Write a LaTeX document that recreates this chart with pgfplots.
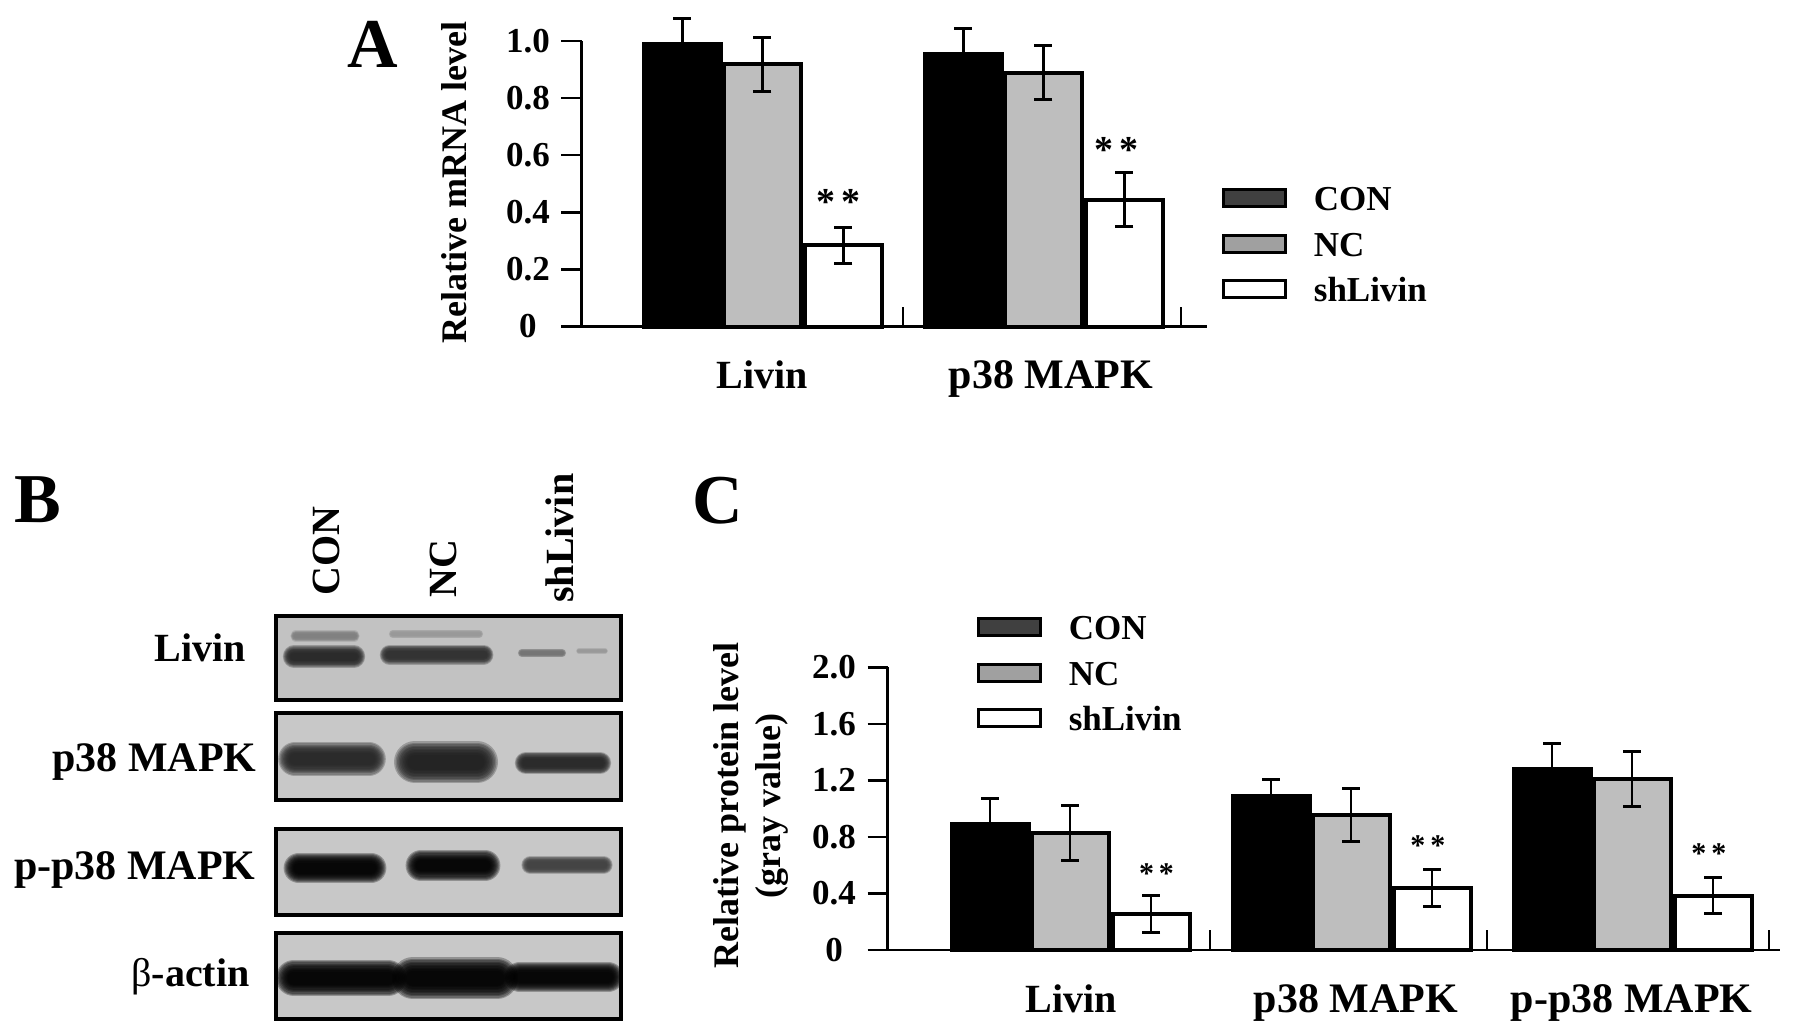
\documentclass[border=0pt]{standalone}
\usepackage{pgfplots}
\pgfplotsset{compat=1.18}
\usepackage{fontspec}
\setmainfont{Liberation Serif}
\definecolor{barG}{HTML}{BEBEBE}
\definecolor{legD}{HTML}{404040}
\definecolor{legG}{HTML}{A0A0A0}
\definecolor{blotA}{HTML}{C2C2C2}
\definecolor{blotB}{HTML}{C8C8C8}
\newcommand{\lbl}{\fontsize{20}{24}\selectfont\bfseries}
\newcommand{\lbm}{\fontsize{21}{24}\selectfont\bfseries}
\newcommand{\tck}{\fontsize{17.5}{21}\selectfont\bfseries}
\newcommand{\yl}{\fontsize{18}{21.3}\selectfont\bfseries}
\newcommand{\pan}{\fontsize{35}{40}\selectfont\bfseries}
% soft band of a blot: centre x, centre y, half length, half height, colour
\newcommand{\band}[5]{%
  \foreach \f in {1.4,1.3,1.2,1.1,1.0,0.9,0.8,0.7,0.6,0.5}{%
    \pgfmathsetmacro{\lw}{\f*#4}%
    \pgfmathsetmacro{\aa}{#1-#3+#4}%
    \pgfmathsetmacro{\bb}{#1+#3-#4}%
    \draw[#5,opacity=.27,line cap=round,line width=\lw pt] (\aa,#2) -- (\bb,#2);}}
\newcommand{\blot}[4]{% top, bottom, colour, bands
  \begin{scope}
    \clip (274,#1) rectangle (622,#2);
    \fill[#3] (274,#1) rectangle (622,#2);
    #4
  \end{scope}
  \draw[black,line width=2pt] (275.5,#1+1.5) rectangle (620.5,#2-1.5);}
\pgfplotsset{
  panel/.style={
    scale only axis, clip=false, ybar,
    axis y line=left, axis x line=bottom,
    axis line style={-,line width=1.2pt},
    tick style={black,line width=1.1pt},
    ymin=0, xtick align=inside, ytick align=outside,
    major tick length=10pt,
    xticklabels={},
    extra x tick style={major tick length=0pt,
      xticklabel style={font=\lbl,anchor=base,yshift=-31pt}},
    yticklabel style={font=\tck,anchor=center,xshift=-16.8pt},
    ylabel style={font=\yl,align=center,rotate=0},
    legend cell align=left,
    legend style={draw=none,fill=none,inner sep=0pt,outer sep=0pt,row sep=10.8pt,
      font=\tck,nodes={inner sep=0pt,outer sep=0pt,text height=12pt,text depth=0pt}},
  },
  barstyle/.style={draw=black,line width=2pt,fill=#1,bar width=38.5pt,forget plot,
    error bars/y dir=both,error bars/y explicit,
    error bars/error bar style={black,line width=1.4pt},
    error bars/error mark options={black,rotate=90,mark size=4.5pt,line width=1.5pt}},
  legimg/.style={legend image code/.code={%
    \draw[black,line width=1.5pt,fill=#1] (0pt,-4pt) rectangle (31pt,4.5pt);
    \path (45pt,0pt);}},
}
\begin{document}
\begin{tikzpicture}
\useasboundingbox (0,0) rectangle (897.5pt,-517.5pt);

%%% Panel A
\begin{axis}[panel,
  at={(290.75pt,-163.25pt)},anchor=south west,
  width=312.75pt,height=142.6pt,
  xmin=0.356,xmax=2.582,ymax=1,
  xtick={1.5,2.49},
  extra x ticks={1,2.027},extra x tick labels={Livin,{\lbm p38 MAPK}},
  ytick={0,0.2,0.4,0.6,0.8,1},
  yticklabels={0,0.2,0.4,0.6,0.8,1.0},
  ylabel={Relative mRNA level},
  ylabel style={at={(axis description cs:-0.203,0.505)},anchor=center},
  legend style={at={(axis description cs:1.024,0.49)},anchor=north west},
]
\addplot[barstyle=black,bar shift=-40pt] coordinates {(1,0.99) +- (0,0.09) (2,0.955) +- (0,0.09)};
\addplot[barstyle=barG,bar shift=0pt] coordinates {(1,0.92) +- (0,0.095) (2,0.89) +- (0,0.095)};
\addplot[barstyle=white,bar shift=40.5pt] coordinates {(1,0.285) +- (0,0.063) (2,0.445) +- (0,0.096)};
\addlegendimage{legimg=legD}\addlegendentry{CON}
\addlegendimage{legimg=legG}\addlegendentry{NC}
\addlegendimage{legimg=white}\addlegendentry{shLivin}
\node[font=\fontsize{19}{20}\selectfont\bfseries] at (axis cs:1.27,0.437) {*\,*};
\node[font=\fontsize{19}{20}\selectfont\bfseries] at (axis cs:2.26,0.62) {*\,*};
\end{axis}

%%% Panel C
\begin{axis}[panel,
  at={(443.8pt,-475pt)},anchor=south west,
  width=446.2pt,height=141.3pt,
  xmin=0.347,xmax=3.523,ymax=2,
  xtick={1.495,2.48,3.485},
  extra x ticks={1,2.014,2.995},extra x tick labels={Livin,{\lbm p38 MAPK},{\lbm p-p38 MAPK}},
  ytick={0,0.4,0.8,1.2,1.6,2},
  yticklabels={0,0.4,0.8,1.2,1.6,2.0},
  ylabel={Relative protein level\\(gray value)},
  ylabel style={at={(axis description cs:-0.153,0.511)},anchor=center},
  legend style={at={(axis description cs:0.10,1.183)},anchor=north west},
]
\addplot[barstyle=black,bar shift=-40.5pt] coordinates {(1,0.895) +- (0,0.18) (2,1.09) +- (0,0.12) (3,1.28) +- (0,0.185)};
\addplot[barstyle=barG,bar shift=-0.5pt] coordinates {(1,0.83) +- (0,0.195) (2,0.955) +- (0,0.19) (3,1.21) +- (0,0.195)};
\addplot[barstyle=white,bar shift=40pt] coordinates {(1,0.255) +- (0,0.128) (2,0.44) +- (0,0.13) (3,0.385) +- (0,0.13)};
\addlegendimage{legimg=legD}\addlegendentry{CON}
\addlegendimage{legimg=legG}\addlegendentry{NC}
\addlegendimage{legimg=white}\addlegendentry{shLivin}
\node[font=\fontsize{15}{18}\selectfont\bfseries] at (axis cs:1.304,0.544) {*\,*};
\node[font=\fontsize{15}{18}\selectfont\bfseries] at (axis cs:2.27,0.74) {*\,*};
\node[font=\fontsize{15}{18}\selectfont\bfseries] at (axis cs:3.27,0.68) {*\,*};
\end{axis}

%%% Panel B and letters (figure pixels at half a point each)
\begin{scope}[x=0.5pt,y=-0.5pt]
\node[font=\pan,anchor=base] at (373,67) {A};
\node[font=\pan,anchor=base] at (38,522) {B};
\node[font=\pan,anchor=base] at (718,523) {C};

\blot{614}{701}{blotA}{%
  \band{325}{636}{33}{4}{black!50}
  \band{436}{634}{46}{3}{black!40}
  \band{324}{656.5}{38}{8}{black!85}
  \band{436.6}{654.7}{54}{7}{black!82}
  \band{542}{653}{23}{3}{black!55}
  \band{592}{651}{15}{2}{black!40}}
\blot{711}{801.5}{blotB}{%
  \band{332}{759}{49}{12}{black!85}
  \band{446}{762}{46}{15}{black!88}
  \band{563}{763}{45}{8}{black!85}}
\blot{827}{916}{blotB}{%
  \band{335}{868}{47}{11}{black}
  \band{453}{865.5}{43}{11}{black}
  \band{567}{865}{43}{6.5}{black!75}}
\blot{931}{1020}{blotB}{%
  \band{341}{978}{60}{13}{black}
  \band{455}{978}{57}{15}{black}
  \band{564}{977}{55}{11}{black}}

\node[font=\lbl,inner sep=0pt,anchor=base east] at (246,661) {Livin};
\node[font=\lbm,inner sep=0pt,anchor=base east] at (257,771) {p38 MAPK};
\node[font=\lbm,inner sep=0pt,anchor=base east] at (256,879) {p-p38 MAPK};
\node[font=\lbl,inner sep=0pt,anchor=base east] at (250,986) {{\fontseries{m}\selectfont β}-actin};
\node[font=\lbl,inner sep=0pt,rotate=90,anchor=base west] at (339,596) {CON};
\node[font=\lbl,inner sep=0pt,rotate=90,anchor=base west] at (456,598) {NC};
\node[font=\lbl,inner sep=0pt,rotate=90,anchor=base west] at (573,603) {shLivin};
\end{scope}
\end{tikzpicture}
\end{document}
